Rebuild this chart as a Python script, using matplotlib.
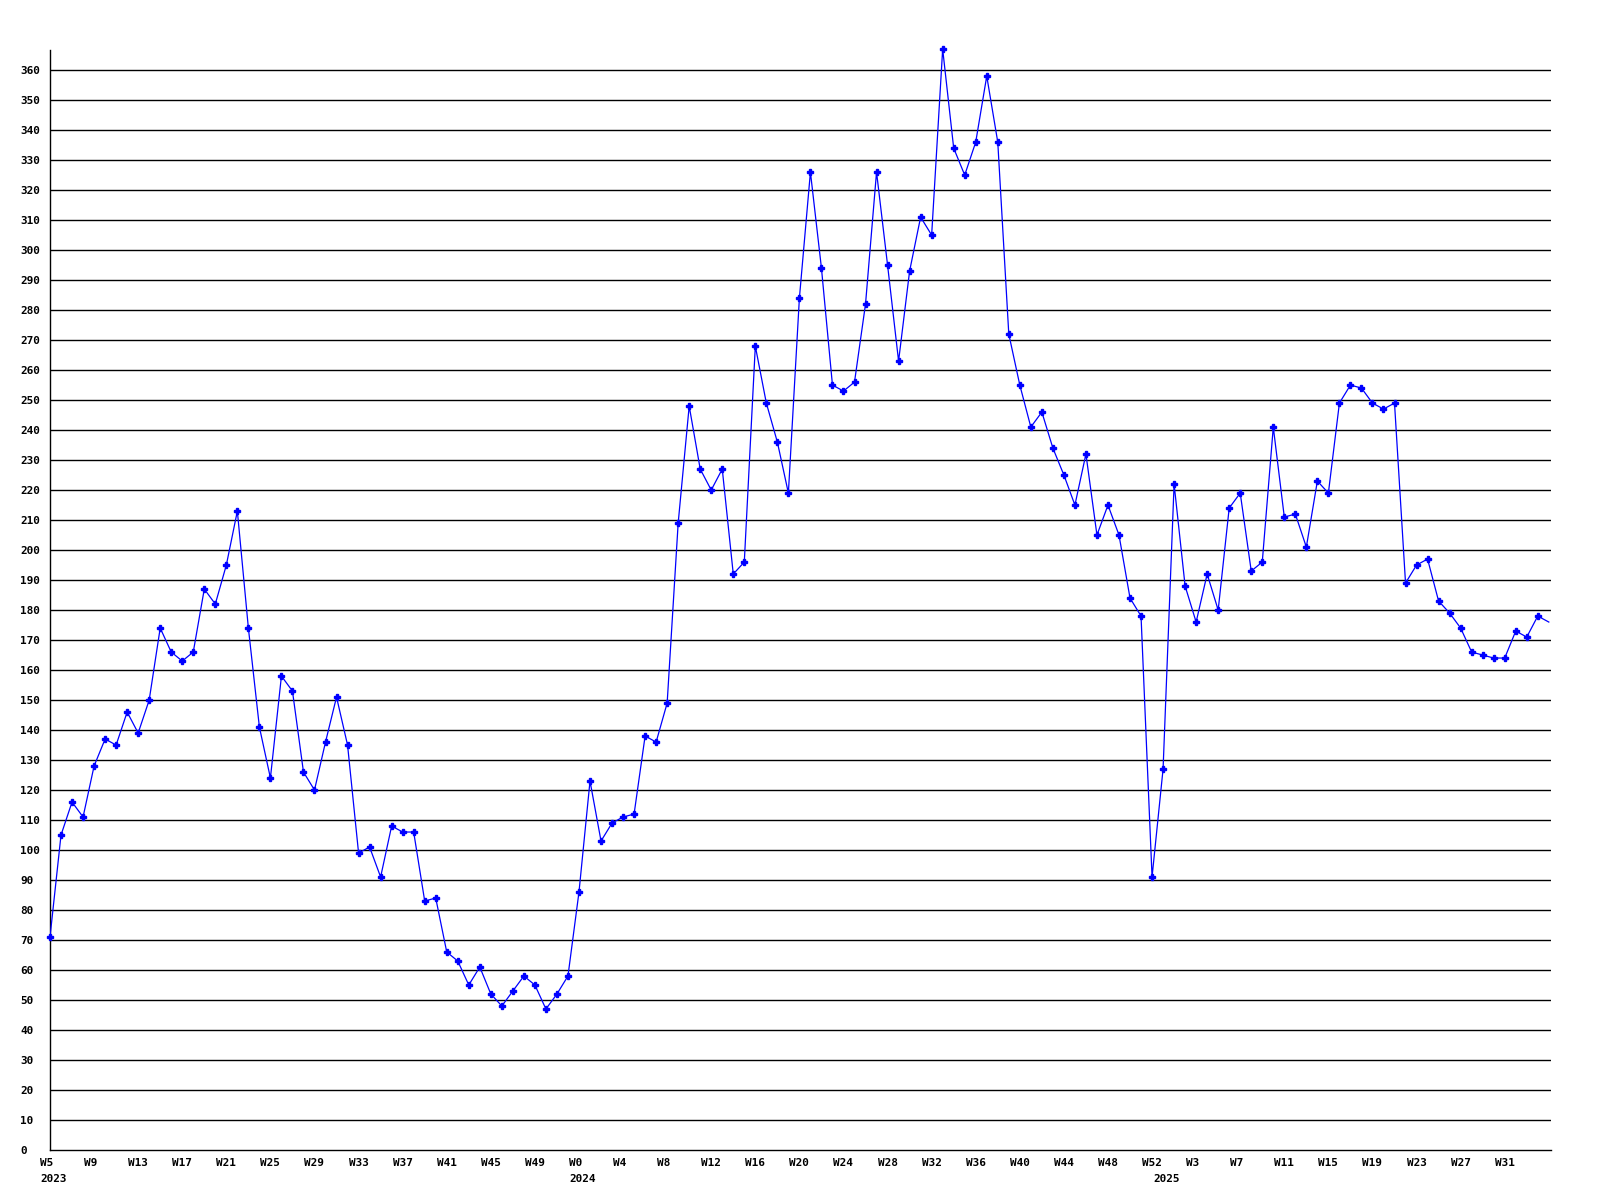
import matplotlib
matplotlib.use("Agg")
import matplotlib.pyplot as plt
from matplotlib import transforms as mtrans

# weekly values, W5 2023 .. W35 2025
values = [71, 105, 116, 111, 128, 137, 135, 146, 139, 150,
          174, 166, 163, 166, 187, 182, 195, 213, 174, 141,
          124, 158, 153, 126, 120, 136, 151, 135, 99, 101,
          91, 108, 106, 106, 83, 84, 66, 63, 55, 61,
          52, 48, 53, 58, 55, 47, 52, 58, 86, 123,
          103, 109, 111, 112, 138, 136, 149, 209, 248, 227,
          220, 227, 192, 196, 268, 249, 236, 219, 284, 326,
          294, 255, 253, 256, 282, 326, 295, 263, 293, 311,
          305, 367, 334, 325, 336, 358, 336, 272, 255, 241,
          246, 234, 225, 215, 232, 205, 215, 205, 184, 178,
          91, 127, 222, 188, 176, 192, 180, 214, 219, 193,
          196, 241, 211, 212, 201, 223, 219, 249, 255, 254,
          249, 247, 249, 189, 195, 197, 183, 179, 174, 166,
          165, 164, 164, 173, 171, 178, 176]

# weeks covered in each year
years = [2023, 2024, 2025]
first_week = [5, 0, 0]
last_week = [52, 52, 35]

yticks = list(range(0, 361, 10))

weeks = []
year_start = []
for y, a, b in zip(years, first_week, last_week):
    year_start.append(len(weeks))
    weeks += ["W%d" % w for w in range(a, b + 1)]

W, H = 1600, 1200
fig = plt.figure(figsize=(16, 12), dpi=100)
ax = fig.add_axes([50 / W, 50 / H, 1501 / W, 1100 / H])

font = dict(family="DejaVu Sans Mono", weight="bold", fontsize=7.9, color="black")

x = list(range(len(values)))
# line is clipped at the right edge, markers (not on the cut-off last point) are not
ax.plot(x, values, color="#0000ff", lw=0.9, zorder=3)
ax.plot(x[:-1], values[:-1], ls="none", color="#0000ff", marker="P", ms=3.8,
        clip_on=False, zorder=4)

ax.set_xlim(0, 136.2)
ax.set_ylim(0, 366.7)

for v in yticks[1:]:
    ax.axhline(v, color="black", lw=1.0, zorder=1)

for s in ["top", "right"]:
    ax.spines[s].set_visible(False)
for s in ["left", "bottom"]:
    ax.spines[s].set_color("black")
    ax.spines[s].set_linewidth(1.0)
ax.set_xticks([])
ax.set_yticks([])

# y labels, left aligned at x=20px
ytr = mtrans.blended_transform_factory(fig.transFigure, ax.transData)
ytr = mtrans.offset_copy(ytr, fig=fig, x=0, y=-4, units="dots")
for v in yticks:
    ax.text(20 / W, v, str(v), transform=ytr, ha="left", va="baseline", **font)

# week labels every 4 weeks, year labels at year start
xtr = mtrans.blended_transform_factory(ax.transData, fig.transFigure)
xtr = mtrans.offset_copy(xtr, fig=fig, x=-10, y=0, units="dots")
for i in range(0, len(weeks) - 1, 4):
    ax.text(i, (H - 1166) / H, weeks[i], transform=xtr, ha="left", va="baseline",
            clip_on=False, **font)
for i, y in zip(year_start, years):
    ax.text(i, (H - 1182) / H, str(y), transform=xtr, ha="left", va="baseline",
            clip_on=False, **font)

fig.savefig("out.png", dpi=100, facecolor="white")
